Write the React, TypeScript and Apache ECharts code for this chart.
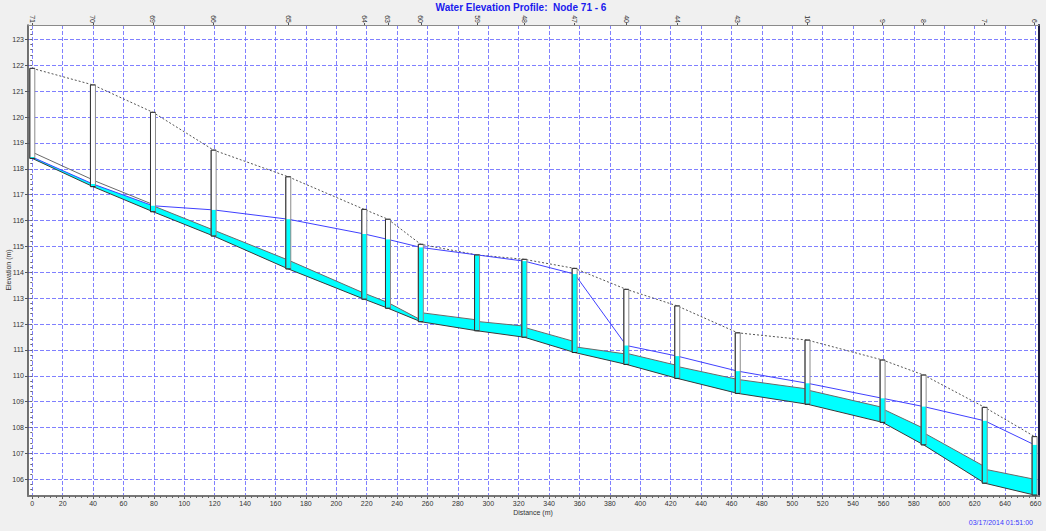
import React, { useEffect, useRef } from "react";
import * as echarts from "echarts";

// ---- data ----
const NODES = ["71", "70", "69", "66", "65", "64", "63", "60", "59", "48", "47", "40", "44", "43", "10", "9", "8", "7", "6"];
const NODE_DIST = [0, 39.9, 79.4, 119.3, 168.4, 218.4, 234.0, 255.6, 292.6, 323.7, 356.8, 390.8, 424.3, 464.1, 510.0, 559.4, 586.4, 626.6, 659.4];
const RIM_ELEV = [121.88, 121.24, 120.18, 118.72, 117.69, 116.43, 116.05, 115.08, 114.67, 114.5, 114.15, 113.34, 112.7, 111.66, 111.38, 110.61, 110.03, 108.78, 107.65];
const INVERT_ELEV = [118.4, 117.31, 116.34, 115.4, 114.13, 112.96, 112.61, 112.09, 111.74, 111.49, 110.9, 110.44, 109.9, 109.32, 108.9, 108.2, 107.33, 105.85, 105.39];
const WATER_ELEV = [118.45, 117.41, 116.57, 116.41, 116.05, 115.48, 115.27, 114.96, 114.67, 114.43, 113.93, 111.17, 110.76, 110.18, 109.71, 109.13, 108.81, 108.26, 107.33];

// conduits between consecutive nodes: invert and crown at both ends
const PIPE_INV_UP = [118.4, 117.31, 116.34, 115.4, 114.13, 112.96, 112.61, 112.09, 111.74, 111.49, 110.9, 110.44, 109.9, 109.32, 108.9, 108.2, 107.33, 105.85];
const PIPE_INV_DN = [117.31, 116.34, 115.4, 114.13, 112.96, 112.61, 112.09, 111.74, 111.49, 110.9, 110.44, 109.9, 109.32, 108.9, 108.2, 107.33, 105.85, 105.39];
const PIPE_TOP_UP = [118.64, 117.56, 116.57, 115.63, 114.47, 113.19, 112.83, 112.44, 112.1, 111.87, 111.12, 110.87, 110.36, 109.86, 109.45, 108.72, 107.8, 106.39];
const PIPE_TOP_DN = [117.57, 116.62, 115.63, 114.47, 113.19, 112.83, 112.16, 112.16, 111.92, 111.32, 110.84, 110.4, 109.86, 109.49, 108.78, 107.97, 106.49, 106.0];

const X_TICKS = [0, 20, 40, 60, 80, 100, 120, 140, 160, 180, 200, 220, 240, 260, 280, 300, 320, 340, 360, 380, 400, 420, 440, 460, 480, 500, 520, 540, 560, 580, 600, 620, 640, 660];
const Y_TICKS = [106, 107, 108, 109, 110, 111, 112, 113, 114, 115, 116, 117, 118, 119, 120, 121, 122, 123];

const TITLE = "Water Elevation Profile:  Node 71 - 6";
const X_NAME = "Distance (m)";
const Y_NAME = "Elevation (m)";
const TIMESTAMP = "03/17/2014 01:51:00";

// ---- layout ----
const X_MIN = -2.83;
const X_MAX = 662.3;
const Y_MIN = 105.355;
const Y_MAX = 123.555;
const FONT = "Liberation Sans, Arial, sans-serif";

function subdivide(ticks: number[], parts: number, lo: number, hi: number): number[] {
  const out: number[] = [];
  const step = ticks[1] - ticks[0];
  const s = step / parts;
  const start = ticks[0] - step;
  for (let k = 0; ; k++) {
    const v = Math.round((start + k * s) * 1000) / 1000;
    if (v > hi) break;
    if (v >= lo) out.push(v);
  }
  return out;
}

export default function App() {
  const ref = useRef<HTMLDivElement>(null);
  useEffect(() => {
    if (!ref.current) return;
    const chart = echarts.init(ref.current, null, { renderer: "svg" });

    const xMinor = subdivide(X_TICKS, 5, X_MIN, X_MAX);
    const yMinor = subdivide(Y_TICKS, 5, Y_MIN, Y_MAX);

    const pipeData = PIPE_INV_UP.map((_, i) => [
      NODE_DIST[i], NODE_DIST[i + 1], PIPE_INV_UP[i], PIPE_INV_DN[i], PIPE_TOP_UP[i], PIPE_TOP_DN[i], WATER_ELEV[i], WATER_ELEV[i + 1],
    ]);
    const nodeData = NODES.map((_, i) => [NODE_DIST[i], INVERT_ELEV[i], RIM_ELEV[i], WATER_ELEV[i]]);

    const gridLine = { show: true, lineStyle: { color: "#6a6aff", type: [4, 2], width: 1, opacity: 0.85 } };

    const option: any = {
      animation: false,
      backgroundColor: "#f0f0f0",
      grid: {
        left: 28, top: 25, width: 1011, height: 471,
        show: true, backgroundColor: "#ffffff", borderWidth: 0,
      },
      xAxis: [
        {
          type: "value", min: X_MIN, max: X_MAX, position: "bottom",
          axisLine: { show: true, onZero: false, lineStyle: { color: "#777", width: 2 } },
          axisTick: { show: true, customValues: X_TICKS, length: 3, lineStyle: { color: "#555" } },
          axisLabel: { customValues: X_TICKS, fontSize: 7, color: "#333", margin: 4, fontFamily: FONT },
          splitLine: gridLine,
        },
        {
          type: "value", min: X_MIN, max: X_MAX, position: "top",
          axisLine: { show: true, onZero: false, lineStyle: { color: "#8a8a8a", width: 1 } },
          axisTick: { show: true, customValues: NODE_DIST, length: 2, lineStyle: { color: "#555" } },
          axisLabel: {
            customValues: NODE_DIST, rotate: 90, fontSize: 7, color: "#333", margin: 2, fontFamily: FONT,
            formatter: (v: number) => {
              let best = 0;
              for (let i = 0; i < NODE_DIST.length; i++) if (Math.abs(NODE_DIST[i] - v) < Math.abs(NODE_DIST[best] - v)) best = i;
              return NODES[best];
            },
          },
          splitLine: { show: false },
        },
        {
          type: "value", min: X_MIN, max: X_MAX, position: "bottom",
          axisLine: { show: false },
          axisTick: { show: true, customValues: xMinor, length: 2, lineStyle: { color: "#666" } },
          axisLabel: { show: false },
          splitLine: { show: false },
        },
      ],
      yAxis: [
        {
          type: "value", min: Y_MIN, max: Y_MAX, position: "left",
          axisLine: { show: true, onZero: false, lineStyle: { color: "#444", width: 1.5 } },
          axisTick: { show: true, customValues: Y_TICKS, length: 3, lineStyle: { color: "#555" } },
          axisLabel: { customValues: Y_TICKS, fontSize: 7, color: "#333", margin: 4, fontFamily: FONT },
          splitLine: gridLine,
        },
        {
          type: "value", min: Y_MIN, max: Y_MAX, position: "right",
          axisLine: { show: true, onZero: false, lineStyle: { color: "#1c1c40", width: 2 } },
          axisTick: { show: false }, axisLabel: { show: false }, splitLine: { show: false },
        },
        {
          type: "value", min: Y_MIN, max: Y_MAX, position: "left",
          axisLine: { show: false },
          axisTick: { show: true, customValues: yMinor, length: 2, lineStyle: { color: "#666" } },
          axisLabel: { show: false },
          splitLine: { show: false },
        },
      ],
      graphic: [
        {
          type: "text", x: 521, y: 7,
          style: { text: TITLE, fill: "#1a1aee", font: `bold 10px ${FONT}`, textAlign: "center", textVerticalAlign: "middle" },
        },
        {
          type: "text", x: 533, y: 512,
          style: { text: X_NAME, fill: "#333", font: `7px ${FONT}`, textAlign: "center", textVerticalAlign: "middle" },
        },
        {
          type: "text", x: 8, y: 270, rotation: Math.PI / 2,
          style: { text: Y_NAME, fill: "#333", font: `7px ${FONT}`, textAlign: "center", textVerticalAlign: "middle" },
        },
        {
          type: "text", x: 1033, y: 522,
          style: { text: TIMESTAMP, fill: "#3a3aff", font: `7px ${FONT}`, textAlign: "right", textVerticalAlign: "middle" },
        },
      ],
      series: [
        {
          type: "custom", name: "Conduits", xAxisIndex: 0, yAxisIndex: 0, clip: false, z: 2,
          data: pipeData,
          renderItem: (params: any, api: any) => {
            const x1 = api.value(0), x2 = api.value(1);
            const inv1 = api.value(2), inv2 = api.value(3);
            const top1 = api.value(4), top2 = api.value(5);
            const w1 = api.value(6), w2 = api.value(7);
            const f1 = Math.min(top1, Math.max(w1, inv1));
            const f2 = Math.min(top2, Math.max(w2, inv2));
            const a = api.coord([x1, inv1]);
            const b = api.coord([x2, inv2]);
            const c = api.coord([x2, f2]);
            const d = api.coord([x1, f1]);
            const e = api.coord([x2, top2]);
            const g = api.coord([x1, top1]);
            return {
              type: "group",
              children: [
                { type: "polygon", shape: { points: [a, b, c, d] }, style: { fill: "#00ffff", stroke: null } },
                { type: "line", shape: { x1: a[0], y1: a[1], x2: b[0], y2: b[1] }, style: { stroke: "#3a3a3a", lineWidth: 1 } },
                { type: "line", shape: { x1: g[0], y1: g[1], x2: e[0], y2: e[1] }, style: { stroke: "#6a6a6a", lineWidth: 1 } },
              ],
            };
          },
        },
        {
          type: "line", name: "Ground", xAxisIndex: 0, yAxisIndex: 0, z: 3,
          data: NODE_DIST.map((d, i) => [d, RIM_ELEV[i]]),
          symbol: "none", lineStyle: { color: "#555", width: 1, type: [2, 2] },
        },
        {
          type: "line", name: "HGL", xAxisIndex: 0, yAxisIndex: 0, z: 3,
          data: NODE_DIST.map((d, i) => [d, WATER_ELEV[i]]),
          symbol: "none", lineStyle: { color: "#4040ff", width: 1 },
        },
        {
          type: "custom", name: "Nodes", xAxisIndex: 0, yAxisIndex: 0, clip: false, z: 4,
          data: nodeData,
          renderItem: (params: any, api: any) => {
            const x = api.value(0);
            const inv = api.value(1), rim = api.value(2), w = api.value(3);
            const p0 = api.coord([x, inv]);
            const p1 = api.coord([x, rim]);
            const pw = api.coord([x, Math.min(w, rim)]);
            const hw = 2.5;
            const l = p0[0] - hw, r = p0[0] + hw;
            return {
              type: "group",
              children: [
                { type: "rect", shape: { x: l, y: p1[1], width: hw * 2, height: p0[1] - p1[1] }, style: { fill: "#ffffff", stroke: null } },
                { type: "rect", shape: { x: l, y: pw[1], width: hw * 2, height: p0[1] - pw[1] }, style: { fill: "#00ffff", stroke: null } },
                { type: "rect", shape: { x: l, y: p1[1], width: hw * 2, height: p0[1] - p1[1] }, style: { fill: null, stroke: "#8a8a8a", lineWidth: 1 } },
                { type: "line", shape: { x1: l, y1: p1[1], x2: l, y2: p0[1] }, style: { stroke: "#333", lineWidth: 1 } },
                { type: "line", shape: { x1: l, y1: p1[1], x2: r, y2: p1[1] }, style: { stroke: "#333", lineWidth: 1 } },
                { type: "line", shape: { x1: l, y1: p0[1], x2: r, y2: p0[1] }, style: { stroke: "#222", lineWidth: 1 } },
              ],
            };
          },
        },
      ],
    };
    chart.setOption(option);
    return () => chart.dispose();
  }, []);
  return (
    <div
      ref={ref}
      style={{ position: "absolute", left: 0, top: 0, width: 1046, height: 531, background: "#f0f0f0" }}
    />
  );
}
